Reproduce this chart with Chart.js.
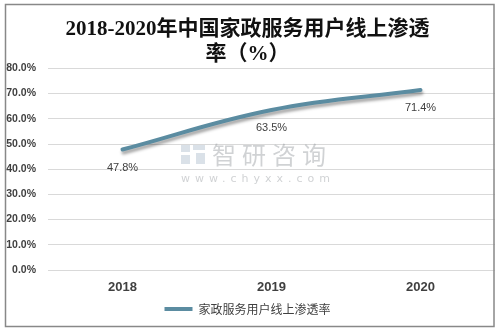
<!DOCTYPE html>
<html>
<head>
<meta charset="utf-8">
<script src="https://cdn.jsdelivr.net/npm/chart.js@4"></script>
<style>
  html, body { margin: 0; padding: 0; background: #fff; }
  #wrap { width: 498px; height: 333px; }
</style>
</head>
<body>
<div id="wrap"><canvas id="rate-chart" width="498" height="333"></canvas></div>
<script>
const years = ['2018', '2019', '2020'];
const rates = [47.8, 63.5, 71.4];
const seriesName = '家政服务用户线上渗透率';
const titleLines = ['2018-2020年中国家政服务用户线上渗透', '率（%）'];
const lineColor = '#5b8ca1';

// frame, watermark and value labels
const decor = {
    id: 'decor',
    beforeDatasetsDraw(chart) {
        const ctx = chart.ctx;
        ctx.save();
        // watermark
        ctx.fillStyle = 'rgba(150,170,190,0.35)';
        ctx.fillRect(181, 145, 9, 7);
        ctx.fillRect(193, 145, 12, 5);
        ctx.fillRect(181, 155, 9, 9);
        ctx.fillRect(196, 153, 9, 11);
        ctx.fillStyle = 'rgba(150,155,160,0.45)';
        ctx.font = '24px "Noto Sans CJK SC"';
        ctx.textBaseline = 'middle';
        ctx.textAlign = 'left';
        ctx.letterSpacing = '6px';
        ctx.fillText('智研咨询', 212, 155);
        ctx.font = '11px "DejaVu Sans"';
        ctx.letterSpacing = '5px';
        ctx.fillText('www.chyxx.com', 181, 179);
        ctx.restore();
    },
    beforeDatasetDraw(chart) {
        const ctx = chart.ctx;
        ctx.save();
        ctx.shadowColor = 'rgba(0,0,0,0.35)';
        ctx.shadowBlur = 3;
        ctx.shadowOffsetX = 1;
        ctx.shadowOffsetY = 3;
    },
    afterDatasetDraw(chart) {
        chart.ctx.restore();
    },
    afterDatasetsDraw(chart) {
        const ctx = chart.ctx;
        const meta = chart.getDatasetMeta(0);
        ctx.save();
        ctx.font = '11px "Liberation Sans"';
        ctx.fillStyle = '#404040';
        ctx.textAlign = 'center';
        ctx.textBaseline = 'middle';
        meta.data.forEach((pt, i) => {
            ctx.fillText(rates[i].toFixed(1) + '%', pt.x, pt.y + 18);
        });
        ctx.restore();
    },
    afterDraw(chart) {
        const ctx = chart.ctx;
        ctx.save();
        ctx.strokeStyle = '#888888';
        ctx.lineWidth = 1.5;
        ctx.strokeRect(5.5, 4.5, 488.5, 322);
        ctx.restore();
    }
};

const ctx = document.getElementById('rate-chart').getContext('2d');
new Chart(ctx, {
    type: 'line',
    data: {
        labels: years,
        datasets: [{
            label: seriesName,
            data: rates,
            borderColor: lineColor,
            backgroundColor: lineColor,
            borderWidth: 4,
            borderCapStyle: 'round',
            tension: 0.4,
            pointRadius: 0,
            fill: false
        }]
    },
    options: {
        responsive: false,
        animation: false,
        layout: { padding: { left: 0, right: 3, top: 0, bottom: 8 } },
        plugins: {
            title: {
                display: true,
                text: titleLines,
                color: '#111111',
                font: { family: '"Liberation Serif", "Noto Sans CJK SC"', size: 21, weight: 'bold', lineHeight: 1.2 },
                padding: { top: 17, bottom: 1 }
            },
            legend: {
                position: 'bottom',
                labels: {
                    usePointStyle: true,
                    pointStyle: 'line',
                    pointStyleWidth: 28,
                    color: '#404040',
                    font: { family: '"Noto Sans CJK SC"', size: 12 },
                    padding: 6
                }
            },
            tooltip: { enabled: false }
        },
        scales: {
            x: {
                offset: true,
                grid: { display: false, drawTicks: false },
                border: { display: false },
                ticks: {
                    color: '#404040',
                    font: { family: '"Liberation Sans"', size: 13, weight: 'bold' },
                    padding: 10
                },
                afterFit(s) { s.height = 27; }
            },
            y: {
                min: 0,
                max: 80,
                ticks: {
                    stepSize: 10,
                    color: '#404040',
                    font: { family: '"Liberation Sans"', size: 10.5, weight: 'bold' },
                    padding: 12,
                    callback: v => v.toFixed(1) + '%'
                },
                grid: { color: '#d9d9d9', drawTicks: false },
                border: { display: false },
                afterFit(s) { s.width = 48; }
            }
        }
    },
    plugins: [decor]
});
</script>
</body>
</html>
